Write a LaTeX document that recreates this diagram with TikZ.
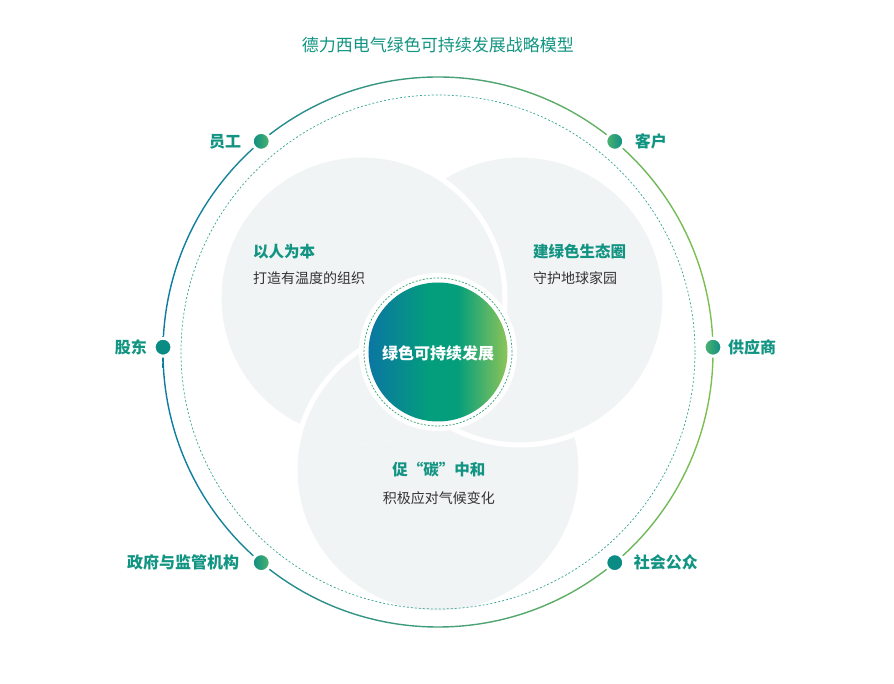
\documentclass[tikz,border=0pt]{standalone}
\usepackage{fontspec}
\newfontfamily\cjk{Noto Sans CJK SC}
\usetikzlibrary{positioning}
\definecolor{brand}{RGB}{18,148,130}
\definecolor{ink}{RGB}{51,51,51}
\definecolor{petal}{RGB}{241,244,245}
\definecolor{ringL}{RGB}{12,124,160}
\definecolor{ringM}{RGB}{16,154,130}
\definecolor{ringR}{RGB}{125,192,82}
\definecolor{coreA}{RGB}{11,118,162}
\definecolor{coreB}{RGB}{4,158,124}
\definecolor{coreC}{RGB}{139,196,88}
\definecolor{dotA}{RGB}{10,140,132}
\definecolor{dotB}{RGB}{80,180,110}
\pgfdeclarehorizontalshading{coreshade}{100bp}{color(0bp)=(coreA); color(25bp)=(coreA); color(47bp)=(coreB); color(57bp)=(coreB); color(75bp)=(coreC); color(100bp)=(coreC)}
\tikzset{
  petaldisk/.style={fill=petal, draw=white, line width=5pt},
  dot/.style={circle, minimum size=18pt, inner sep=0pt, draw=white, line width=3pt},
  who/.style={font=\cjk\bfseries\fontsize{16}{18}\selectfont, text=brand, inner sep=0pt},
  head/.style={font=\cjk\bfseries\fontsize{15.5}{18}\selectfont, text=brand, inner sep=0pt},
  sub/.style={font=\cjk\fontsize{14}{16}\selectfont, text=ink, inner sep=0pt},
  title/.style={font=\cjk\fontsize{17}{20}\selectfont, text=brand, inner sep=0pt},
  core/.style={font=\cjk\bfseries\fontsize{16}{18}\selectfont, text=white, inner sep=0pt}
}
\begin{document}
\begin{tikzpicture}[x=1pt, y=1pt, line join=round]
\useasboundingbox (-438,-332) rectangle (456,352);
\coordinate (O) at (0,0);
\coordinate (L) at (-76,54);
\coordinate (R) at (82,52);
\coordinate (B) at (0,-118);
\draw[petaldisk] (B) circle (143pt);
\draw[petaldisk] (R) circle (145pt);
\draw[petaldisk] (L) circle (143pt);
\begin{scope}
  \clip (L) circle (145.5pt);
  \draw[petaldisk] (B) circle (143pt);
\end{scope}
\shade[even odd rule, left color=ringL, middle color=ringM, right color=ringR] (O) circle (275.7pt) (O) circle (274.3pt);
\draw[brand!85, dash pattern=on 2pt off 2pt, line width=.7pt] (O) circle (257pt);
\fill[white] (O) circle (79pt);
\draw[brand!70!ringR, dash pattern=on 2pt off 1.6pt, line width=.7pt] (O) circle (74pt);
\shade[shading=coreshade] (O) circle (69.5pt);
\node[core] (core) at (0,-1) {绿色可持续发展};
\node[title] (title) at (0,307) {德力西电气绿色可持续发展战略模型};
\node[dot, left color=dotA, right color=dotB] (staff) at (130:275) {};
\node[dot, left color=dotB, right color=dotA] (client) at (50:275) {};
\node[dot, fill=dotA] (holder) at (179:275) {};
\node[dot, left color=dotB, right color=dotA] (supplier) at (1:275) {};
\node[dot, left color=dotA, right color=dotB] (gov) at (230:275) {};
\node[dot, fill=dotA] (public) at (310:275) {};
\node[who, left=9.5pt of staff] {员工};
\node[who, right=9.5pt of client] {客户};
\node[who, left=5.5pt of holder] {股东};
\node[who, right=4.5pt of supplier] {供应商};
\node[who, left=11.5pt of gov] {政府与监管机构};
\node[who, right=8.5pt of public] {社会公众};
\node[head, anchor=west] (peopleT) at (-185,100.5) {以人为本};
\node[sub, anchor=west] (peopleS) at (-185,74) {打造有温度的组织};
\node[head, anchor=west] (ecoT) at (95,100.5) {建绿色生态圈};
\node[sub, anchor=west] (ecoS) at (95,74) {守护地球家园};
\node[head] (carbonT) at (1,-118) {促“碳”中和};
\node[sub] (carbonS) at (1,-146) {积极应对气候变化};
\end{tikzpicture}
\end{document}
